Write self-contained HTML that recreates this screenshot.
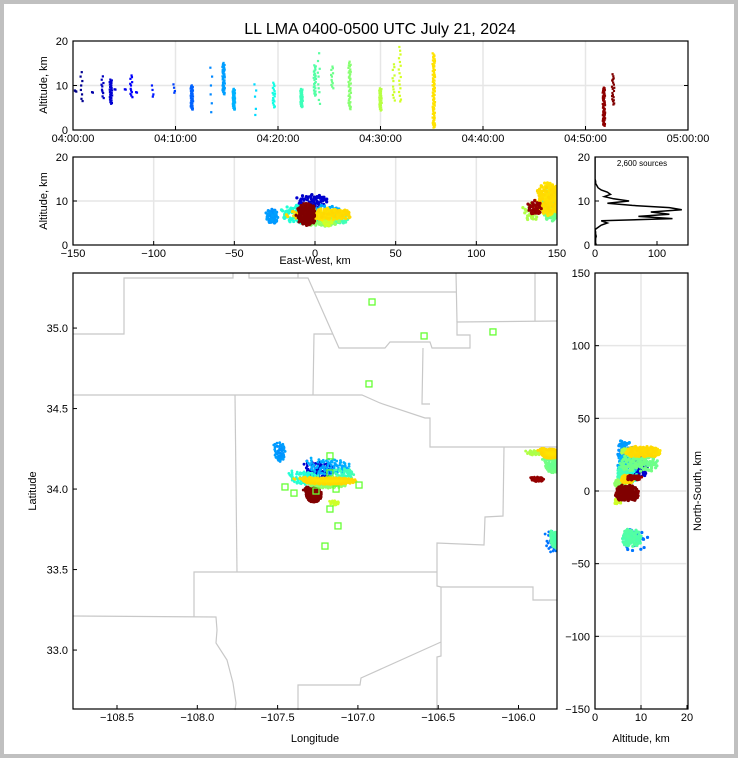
<!DOCTYPE html>
<html><head><meta charset="utf-8"><style>
html,body{margin:0;padding:0;background:#fff}
#wrap{position:relative;width:738px;height:758px;box-sizing:border-box;border:4px solid #c0c0c0;background:#fff}
svg{position:absolute;left:-4px;top:-4px}
text{font-family:"Liberation Sans","DejaVu Sans",sans-serif;fill:#000}
</style></head><body>
<div id="wrap">
<svg id="fig" width="738" height="758" viewBox="0 0 738 758">
<text x="380" y="34" font-size="16" text-anchor="middle">LL LMA 0400-0500 UTC July 21, 2024</text>
<g id="bound" fill="none" stroke="#c8c8c8" stroke-width="1.2"></g>
<g id="layers"></g>
</svg>
</div>
<script>
// ---- data ----
const flashT  = [0.28,0.84,1.9,2.9,3.7,4.1,5.1,5.7,6.2,7.8,9.9,11.6,13.5,14.7,15.7,17.8,19.6,22.3,23.6,24.0,25.3,27.0,30.0,31.3,31.9,35.2,51.8,52.7];
const flashLo = [8.5,6,8.3,6.8,5.7,9,9,7,8.3,7,8,4.5,2,7.9,4.5,2,4.9,5,7.5,5,9,4.5,4.2,6,6,0.4,0.8,5.5];
const flashHi = [9,14,8.7,12.8,11.7,9.3,9.3,13,8.7,11,11,10.2,18,15.3,9.4,13,11,9.5,15,19,15,15.7,9.7,16,19.5,17.5,9.8,13];
const flashN  = [3,8,2,10,30,2,2,12,2,4,4,40,6,45,35,5,18,30,25,10,12,40,30,12,16,80,50,20];
const histAlt = [0,0.5,1,1.5,2,2.5,3,3.5,4,4.5,5,5.5,6,6.5,7,7.5,8,8.5,9,9.5,10,10.5,11,11.5,12,12.5,13,13.5,14,14.5,15,16,17,18,19,20];
const histCnt = [2,1,1,1,2,1,1,0,5,10,20,10,125,70,120,90,140,120,60,20,55,30,15,25,20,10,5,3,1,1,0,0,0,0,0,0];
const clLon  = [-107.485,-107.236,-107.174,-107.330,-107.081,-107.174,-107.187,-107.274,-107.143,-105.800,-105.785,-105.900,-105.880,-105.766,-105.770,-105.790];
const clLat  = [34.230,34.118,34.137,34.068,34.087,34.050,34.025,33.963,33.913,34.220,34.150,34.225,34.060,34.170,33.684,33.670];
const clRLon = [0.035,0.09,0.13,0.09,0.06,0.17,0.12,0.05,0.03,0.06,0.05,0.05,0.04,0.02,0.03,0.04];
const clRLat = [0.06,0.05,0.05,0.04,0.04,0.022,0.02,0.045,0.015,0.03,0.05,0.015,0.015,0.03,0.05,0.07];
const clAlt  = [6.5,10,7,7,6,7,5.5,7,5,10.5,9.5,7.5,8.5,9,8,9];
const clAltS = [2,1.8,2.5,2.5,1.5,1.5,1.5,3,1,4.5,5,2.5,2,2,2.5,3];
const clT    = [14,3,15,20,22,35,27,52,31,35,25,29,51,4,23,12];
const clN    = [50,70,90,80,45,250,80,200,20,200,130,30,40,25,110,25];
const stLon = [-106.912,-106.588,-106.159,-106.931,-107.174,-107.454,-107.398,-107.261,-107.174,-107.136,-106.993,-107.174,-107.124,-107.205];
const stLat = [35.162,34.951,34.976,34.653,34.206,34.013,33.975,33.988,34.100,34.000,34.025,33.876,33.771,33.646];
const timeTicks = ["04:00:00","04:10:00","04:20:00","04:30:00","04:40:00","04:50:00","05:00:00"];
const ewTicks = [-150,-100,-50,0,50,100,150];
const lonTicks = [-108.5,-108.0,-107.5,-107.0,-106.5,-106.0];
const latTicks = [33.0,33.5,34.0,34.5,35.0];
const nsTicks = [-150,-100,-50,0,50,100,150];
// ---- scales ----
const LON0=-107.225, LAT0=33.978, KLON=101.5, KLAT=111, TMAX=52.5;
const sx1=t=>73+t/60*615, sy1=a=>130-a/20*89;
const sx2=e=>73+(e+150)/300*484, sy2=a=>245-a/20*88;
const sxH=c=>595+c*0.62, syH=a=>245-a/20*88;
const sxM=l=>73+(l+108.774)*160.6, syM=l=>273+(35.342-l)*161;
const sxR=a=>595+a*4.6, syR=n=>491-n*436/300;
const NS='http://www.w3.org/2000/svg';
const svg=document.getElementById('fig'), L=document.getElementById('layers');
function mk(tag,at,par){const e=document.createElementNS(NS,tag);for(const k in at)e.setAttribute(k,at[k]);(par||L).appendChild(e);return e;}
const JR=[[0,0],[0.35,0],[0.66,1],[0.89,1],[1,0.5]],JG=[[0,0],[0.125,0],[0.375,1],[0.64,1],[0.91,0],[1,0]],JB=[[0,0.5],[0.11,1],[0.34,1],[0.65,0],[1,0]];
function seg(s,v){for(let i=1;i<s.length;i++){if(v<=s[i][0]){const f=(v-s[i-1][0])/(s[i][0]-s[i-1][0]);return s[i-1][1]+f*(s[i][1]-s[i-1][1]);}}return s[s.length-1][1];}
function jet(v){v=Math.max(0,Math.min(1,v));return `rgb(${Math.round(seg(JR,v)*255)},${Math.round(seg(JG,v)*255)},${Math.round(seg(JB,v)*255)})`;}
function vdc(n,b){let q=0,bk=1/b;while(n>0){q+=(n%b)*bk;n=Math.floor(n/b);bk/=b;}return q;}
function txt(x,y,s,anchor,size,name,rot){const t=mk('text',{x:x,y:y,'font-size':size||11,'text-anchor':anchor||'middle'});if(rot)t.setAttribute('transform',`rotate(${rot} ${x} ${y})`);t.textContent=s;


return t;}
function axesBox(x,y,w,h,name,clip){const g=mk('g',{});


if(clip){const cp=mk('clipPath',{id:clip},svg);mk('rect',{x:x,y:y,width:w,height:h},cp);}return g;}
function grid(g,x1,y1,x2,y2){const l=mk('line',{x1,y1,x2,y2,stroke:'#e6e6e6','stroke-width':1.5},g);

}
function tick(g,x1,y1,x2,y2){const l=mk('line',{x1,y1,x2,y2,stroke:'#000','stroke-width':1},g);

}
function frame(g,x,y,w,h){const r=mk('rect',{x:x,y:y,width:w,height:h,fill:'none',stroke:'#000','stroke-width':1.2},g);

}
// ---- build cluster points (deterministic low-discrepancy layout) ----
const pts=[];
for(let c=0;c<clLon.length;c++){for(let i=0;i<clN[c];i++){
const u=vdc(i+1,2),w=vdc(i+1,3),z=vdc(i+1,5);
let r=Math.sqrt(u);if(i%9===0)r*=1.5;const an=w*6.2832;const f=(z*2-1);
pts.push({lon:clLon[c]+r*Math.cos(an)*clRLon[c],lat:clLat[c]+r*Math.sin(an)*clRLat[c],alt:clAlt[c]+clAltS[c]*f*(0.6+0.4*(1-r)),t:clT[c]+u*0.8});}}
pts.sort((a,b)=>a.t-b.t);
// ---- panel 1: time-height ----
{const g=axesBox(73,41,615,89,'time-altitude-panel','c1');
for(let i=1;i<6;i++)grid(g,sx1(i*10),41,sx1(i*10),130);grid(g,73,sy1(10),688,sy1(10));
const pg=mk('g',{'clip-path':'url(#c1)'},g);


flashT.forEach((t,k)=>{const n=flashN[k];for(let i=0;i<n;i++){const f=n>1?vdc(i+1,2):0.5;const a=flashLo[k]+(flashHi[k]-flashLo[k])*f;const dx=(vdc(i+1,3)-0.5)*0.25;
const d=mk('rect',{x:sx1(t+dx)-1.1,y:sy1(a)-1.1,width:2.2,height:2.2,fill:jet(t/TMAX)},pg);

}});
frame(g,73,41,615,89);
[0,10,20].forEach(v=>{tick(g,73,sy1(v),77,sy1(v));tick(g,684,sy1(v),688,sy1(v));txt(68,sy1(v)+4,String(v),'end',11,'y-tick-label');});
timeTicks.forEach((s,i)=>{tick(g,sx1(i*10),130,sx1(i*10),126);txt(sx1(i*10),142,s,'middle',11,'x-tick-label');});
txt(47,85,'Altitude, km','middle',11,'y-axis-title',-90);}
// ---- panel 2: EW-height ----
{const g=axesBox(73,157,484,88,'ew-altitude-panel','c2');
ewTicks.forEach(v=>grid(g,sx2(v),157,sx2(v),245));grid(g,73,sy2(10),557,sy2(10));
const pg=mk('g',{'clip-path':'url(#c2)'},g);


pts.forEach(p=>{const d=mk('circle',{cx:sx2((p.lon-LON0)*KLON),cy:sy2(p.alt),r:1.6,fill:jet(p.t/TMAX)},pg);

});
frame(g,73,157,484,88);
[0,10,20].forEach(v=>{tick(g,73,sy2(v),77,sy2(v));txt(68,sy2(v)+4,String(v),'end',11,'y-tick-label');});
ewTicks.forEach(v=>{tick(g,sx2(v),245,sx2(v),241);txt(sx2(v),257,(v<0?'\u2212':'')+Math.abs(v),'middle',11,'x-tick-label');});
txt(47,201,'Altitude, km','middle',11,'y-axis-title',-90);
txt(315,264,'East-West, km','middle',11,'x-axis-title');}
// ---- histogram ----
{const g=axesBox(595,157,93,88,'altitude-histogram','c3');
let d='';histAlt.forEach((a,i)=>{d+=(i?'L':'M')+sxH(histCnt[i]).toFixed(1)+' '+syH(a).toFixed(1);});
const p=mk('path',{d:d,fill:'none',stroke:'#000','stroke-width':1.5,'clip-path':'url(#c3)'},g);


frame(g,595,157,93,88);
[0,10,20].forEach(v=>{tick(g,595,syH(v),599,syH(v));txt(590,syH(v)+4,String(v),'end',11,'y-tick-label');});
[0,100].forEach(v=>{tick(g,sxH(v),245,sxH(v),241);txt(sxH(v),257,String(v),'middle',11,'x-tick-label');});
txt(642,166,'2,600 sources','middle',8,'source-count-label');}
// ---- map ----
{const B=document.getElementById('bound');
const lines=[
[[73,334],[124,334],[124,278],[233,278],[233,273]],
[[249,273],[249,278],[308,278],[339,348],[385,348],[390,342],[430,342],[432,348],[470,348],[470,335],[457,335],[457,322],[557,321]],
[[298,273],[298,278]],[[315,292],[456,292]],[[456,273],[457,322]],[[535,273],[535,321]],
[[333,334],[314,334],[313,395]],
[[73,395],[362,395],[380,403],[425,418],[430,418],[430,447],[557,447]],
[[423,348],[422,404],[430,404]],
[[235,395],[237,572]],
[[504,447],[503,516],[485,517],[484,545],[437,543],[437,586],[441,587],[533,587],[533,600],[557,600]],
[[194,617],[194,572],[437,572]],
[[73,616],[216,617],[217,630],[216,643],[227,660],[233,683],[236,703],[235,710]],
[[441,587],[441,656],[437,657],[437,710]],
[[298,710],[298,685],[360,685],[361,678],[441,642]]];
lines.forEach(l=>mk('polyline',{points:l.map(p=>p.join(',')).join(' ')},B));
svg.appendChild(B);svg.appendChild(L);
const g=axesBox(73,273,484,436,'map-panel','c4');
const pg=mk('g',{'clip-path':'url(#c4)'},g);


pts.forEach(p=>{const d=mk('circle',{cx:sxM(p.lon),cy:syM(p.lat),r:1.4,fill:jet(p.t/TMAX)},pg);

});
stLon.forEach((l,i)=>{const s=mk('rect',{x:sxM(l)-3,y:syM(stLat[i])-3,width:6,height:6,fill:'none',stroke:'#66ff33','stroke-width':1.3},pg);

});
frame(g,73,273,484,436);
latTicks.forEach(v=>{tick(g,73,syM(v),77,syM(v));txt(68,syM(v)+4,v.toFixed(1),'end',11,'y-tick-label');});
lonTicks.forEach(v=>{tick(g,sxM(v),709,sxM(v),705);txt(sxM(v),721,'\u2212'+Math.abs(v).toFixed(1),'middle',11,'x-tick-label');});
txt(36,491,'Latitude','middle',11,'y-axis-title',-90);
txt(315,742,'Longitude','middle',11,'x-axis-title');}
// ---- right panel: alt vs NS ----
{const g=axesBox(595,273,93,436,'ns-altitude-panel','c5');
[0,10,20].forEach(v=>grid(g,sxR(v),273,sxR(v),709));nsTicks.forEach(v=>grid(g,595,syR(v),688,syR(v)));
const pg=mk('g',{'clip-path':'url(#c5)'},g);


pts.forEach(p=>{const d=mk('circle',{cx:sxR(p.alt),cy:syR((p.lat-LAT0)*KLAT),r:1.6,fill:jet(p.t/TMAX)},pg);

});
frame(g,595,273,93,436);
nsTicks.forEach(v=>{tick(g,595,syR(v),599,syR(v));txt(590,syR(v)+4,(v<0?'\u2212':'')+Math.abs(v),'end',11,'y-tick-label');});
[0,10,20].forEach(v=>{tick(g,sxR(v),709,sxR(v),705);txt(sxR(v),721,String(v),'middle',11,'x-tick-label');});
txt(701,491,'North-South, km','middle',11,'y-axis-title',-90);
txt(641,742,'Altitude, km','middle',11,'x-axis-title');}
</script>
</body></html>
